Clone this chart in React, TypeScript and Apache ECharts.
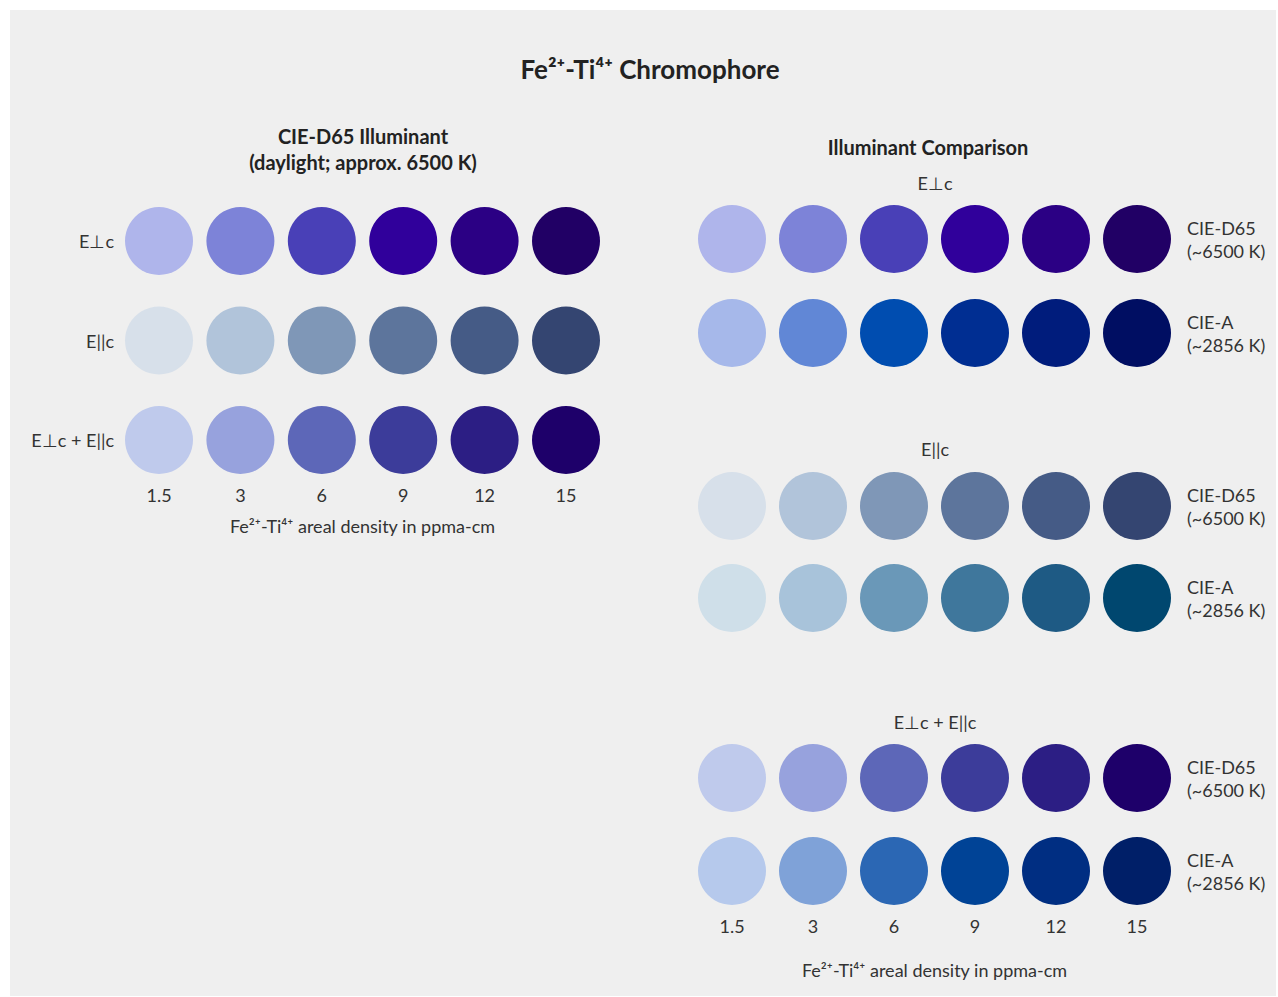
import { useEffect, useRef } from "react";
import * as echarts from "echarts";

const densities = ["1.5", "3", "6", "9", "12", "15"];
const polarizations = ["E⊥c", "E||c", "E⊥c + E||c"];
const illuminants = ["CIE-D65\n(~6500 K)", "CIE-A\n(~2856 K)"];

const d65Perp = ["#afb5eb", "#7d83d8", "#4940b7", "#30009b", "#2b0084", "#210065"];
const d65Par = ["#d7e0ea", "#b1c4da", "#7f97b7", "#5d759c", "#455b86", "#344571"];
const d65Both = ["#bfcaec", "#97a2dd", "#5d67b8", "#3c3c9a", "#2c1e84", "#1e006a"];
const aPerp = ["#a6b8ea", "#6187d6", "#004db0", "#002e92", "#001c7c", "#000e62"];
const aPar = ["#cfdfe9", "#a8c3da", "#6a98b8", "#3f779c", "#1e5a84", "#00476f"];
const aBoth = ["#b6c9ec", "#7fa2d8", "#2b67b4", "#004396", "#002e82", "#001f68"];

const FONT = "Lato";
const TXT = "#333";
const FS = 18;

function rowData(rowName: string, colors: string[]) {
  return densities.map((d, i) => ({ value: [d, rowName], itemStyle: { color: colors[i], opacity: 1 } }));
}

export default function App() {
  const ref = useRef<HTMLDivElement>(null);
  useEffect(() => {
    if (!ref.current) return;
    const chart = echarts.init(ref.current, null, { renderer: "svg" });
    const axisName = "Fe²⁺-Ti⁴⁺ areal density in ppma-cm";
    const hidden = { axisLine: { show: false }, axisTick: { show: false }, splitLine: { show: false } };
    const xBase = (gridIndex: number, showLabel: boolean, nameGap: number) => ({
      type: "category",
      gridIndex,
      data: densities,
      boundaryGap: false,
      ...hidden,
      axisLabel: { show: showLabel, margin: 46, fontSize: FS, color: TXT, fontFamily: FONT },
      name: showLabel ? axisName : "",
      nameLocation: "middle",
      nameGap,
      nameTextStyle: { fontSize: FS, color: TXT, fontFamily: FONT },
    });
    const yRight = (gridIndex: number) => ({
      type: "category",
      gridIndex,
      data: illuminants,
      inverse: true,
      boundaryGap: false,
      position: "right",
      ...hidden,
      axisLabel: { margin: 50, fontSize: FS, color: TXT, fontFamily: FONT, lineHeight: 23, align: "left" },
    });
    const textG = (text: string, x: number, y: number, size: number, bold: boolean) => ({
      type: "text",
      x,
      y,
      style: {
        text,
        fontSize: size,
        fontWeight: bold ? "bold" : "normal",
        fontFamily: FONT,
        fill: bold ? "#222" : TXT,
        textAlign: "center",
        textVerticalAlign: "middle",
      },
    });
    const sc = (i: number, data: any[]) => ({
      type: "scatter",
      xAxisIndex: i,
      yAxisIndex: i,
      symbolSize: 68,
      itemStyle: { opacity: 1 },
      emphasis: { disabled: true },
      data,
    });
    chart.setOption({
      animation: false,
      backgroundColor: "#ffffff",
      graphic: [
        { type: "rect", z: -10, shape: { x: 10, y: 10, width: 1266, height: 986 }, style: { fill: "#efefef" } },
        textG("Fe²⁺-Ti⁴⁺ Chromophore", 650, 69, 26, true),
        textG("CIE-D65 Illuminant", 363, 136, 20, true),
        textG("(daylight; approx. 6500 K)", 363, 162, 20, true),
        textG("Illuminant Comparison", 928, 147, 20, true),
        textG(polarizations[0], 935, 183, FS, false),
        textG(polarizations[1], 935, 449, FS, false),
        textG(polarizations[2], 935, 722, FS, false),
      ],
      grid: [
        { left: 159, top: 241, width: 407, height: 199 },
        { left: 732, top: 239, width: 405, height: 94 },
        { left: 732, top: 506, width: 405, height: 92 },
        { left: 732, top: 778, width: 405, height: 93 },
      ],
      xAxis: [xBase(0, true, 77), xBase(1, false, 0), xBase(2, false, 0), xBase(3, true, 90)],
      yAxis: [
        {
          type: "category",
          gridIndex: 0,
          data: polarizations,
          inverse: true,
          boundaryGap: false,
          ...hidden,
          axisLabel: { margin: 45, fontSize: FS, color: TXT, fontFamily: FONT },
        },
        yRight(1),
        yRight(2),
        yRight(3),
      ],
      series: [
        sc(0, [
          ...rowData(polarizations[0], d65Perp),
          ...rowData(polarizations[1], d65Par),
          ...rowData(polarizations[2], d65Both),
        ]),
        sc(1, [...rowData(illuminants[0], d65Perp), ...rowData(illuminants[1], aPerp)]),
        sc(2, [...rowData(illuminants[0], d65Par), ...rowData(illuminants[1], aPar)]),
        sc(3, [...rowData(illuminants[0], d65Both), ...rowData(illuminants[1], aBoth)]),
      ],
    } as any);
    return () => chart.dispose();
  }, []);
  return <div ref={ref} style={{ position: "absolute", left: 0, top: 0, width: 1278, height: 997 }} />;
}
